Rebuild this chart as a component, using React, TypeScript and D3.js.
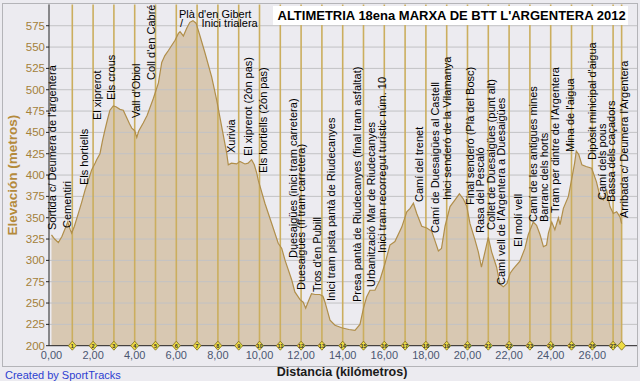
import React from 'react';
import * as d3 from 'd3';

const distKm = [0, 0.15, 0.33, 0.5, 0.7, 0.78, 0.9, 0.97, 1.1, 1.29, 1.45, 1.61, 1.8, 1.93, 2.1, 2.17, 2.33, 2.45, 2.57, 2.7, 2.81, 2.97, 3.1, 3.29, 3.45, 3.6, 3.75, 3.86, 4.0, 4.1, 4.2, 4.41, 4.6, 4.9, 5.14, 5.3, 5.45, 5.62, 5.94, 6.1, 6.18, 6.34, 6.5, 6.65, 6.8, 6.95, 7.14, 7.38, 7.7, 7.94, 8.18, 8.42, 8.5, 8.65, 8.9, 9.06, 9.3, 9.45, 9.62, 9.75, 9.87, 9.94, 10.26, 10.59, 10.9, 11.07, 11.23, 11.55, 11.7, 11.95, 12.1, 12.22, 12.35, 12.5, 12.67, 12.9, 13.05, 13.15, 13.39, 13.63, 13.95, 14.3, 14.59, 14.83, 15.0, 15.15, 15.31, 15.55, 15.79, 16.03, 16.27, 16.51, 16.84, 17.08, 17.24, 17.4, 17.56, 17.8, 18.04, 18.28, 18.45, 18.6, 18.75, 18.92, 19.16, 19.4, 19.61, 19.8, 19.97, 20.12, 20.36, 20.52, 20.67, 20.86, 21.0, 21.16, 21.4, 21.56, 21.72, 21.9, 22.05, 22.2, 22.52, 22.76, 22.92, 23.16, 23.32, 23.49, 23.65, 23.8, 23.89, 24.05, 24.2, 24.37, 24.45, 24.61, 24.85, 25.0, 25.15, 25.23, 25.35, 25.5, 25.7, 25.97, 26.2, 26.37, 26.53, 26.69, 26.85, 27.01, 27.17, 27.33, 27.41];
const elevM = [330, 325, 321, 328, 340, 345, 336, 332, 340, 355, 368, 382, 396, 406, 414, 418, 425, 440, 453, 466, 476, 481, 480, 477, 476, 468, 460, 455, 452, 444, 452, 461, 470, 490, 508, 532, 540, 546, 558, 566, 568, 563, 572, 579, 581, 578, 563, 543, 515, 488, 457, 426, 412, 414, 413, 416, 413, 414, 418, 412, 402, 394, 367, 343, 320, 314, 300, 277, 263, 254, 251, 244, 252, 261, 260, 260, 258, 251, 230, 224, 221, 219, 218, 225, 244, 257, 265, 265, 277, 296, 318, 322, 339, 357, 361, 367, 355, 340, 338, 334, 322, 311, 314, 340, 363, 371, 378, 372, 363, 343, 324, 310, 292, 312, 327, 310, 292, 272, 269, 273, 285, 290, 299, 314, 330, 345, 341, 330, 316, 318, 332, 345, 336, 350, 342, 361, 375, 394, 414, 428, 424, 412, 410, 408, 392, 375, 371, 382, 363, 355, 357, 351, 343];

const kmMarks = [1, 2, 3, 4, 5, 6, 7, 8, 9, 10, 11, 12, 13, 14, 15, 16, 17, 18, 19, 20, 21, 22, 23, 24, 25, 26, 27];
const yTicks = [200, 225, 250, 275, 300, 325, 350, 375, 400, 425, 450, 475, 500, 525, 550, 575];
const xTicks = [0, 2, 4, 6, 8, 10, 12, 14, 16, 18, 20, 22, 24, 26];

const wpNames = [
  "Sortida c/ Deumera de l'argentera",
  "Cementiri",
  "Els hortiells",
  "El xiprerot",
  "Els crous",
  "Vall d'Obiol",
  "Coll d'en Cabré",
  "Xurivia",
  "El xiprerot (2ón pas)",
  "Els hortiells (2ón pas)",
  "Duesaigües (inici tram carretera)",
  "Duesaigües (fi tram carretera)",
  "Tros d'en Pubill",
  "Inici tram pista pantà de Riudecanyes",
  "Presa pantà de Riudecanyes (final tram asfaltat)",
  "Urbanització Mar de Riudecanyes",
  "Inici tram recorregut turístic núm. 10",
  "Camí del trenet",
  "Camí de Duesaigües al Castell",
  "Inici senderó de la Vilamanya",
  "Final senderó (Plà del Bosc)",
  "Rasa del Pescaló",
  "Collet de Duesaigües (punt alt)",
  "Camí vell de l'Argentera a Duesaigües",
  "El molí vell",
  "Camí de les antigues mines",
  "Barranc dels horts",
  "Tram per dintre de l'Argentera",
  "Mina de l'aigua",
  "Dipòsit minicipal d'aigua",
  "Camí dels pous",
  "Bassa dels caçadors",
  "Arribada c/ Deumera l'Argentera",
];
const wpKm = [0.24, 0.96, 1.75, 2.36, 3.03, 4.25, 4.98, 8.82, 9.62, 10.34, 11.78, 12.19, 12.98, 13.63, 14.9, 15.55, 16.06, 17.88, 18.61, 19.23, 20.29, 20.77, 21.32, 21.8, 22.6, 23.32, 23.85, 24.38, 25.1, 26.2, 26.68, 27.09, 27.74];
const wpElev = [335.6, 337.9, 388.3, 464.5, 488, 466.8, 511.4, 425.8, 422.3, 402.4, 302.8, 265.3, 262.9, 252.4, 251.2, 268.8, 308.6, 368.4, 332.1, 370.7, 364.9, 332.1, 335.6, 271.1, 315.7, 345, 345, 355.5, 427, 417.6, 370.7, 368.4, 349.6];

const topNames = ["Plà d'en Gibert", "/", "Inici trialera"];
const topKm = [6.13, 6.18, 7.21];
const topElev = [584.6, 574, 573.5];

const title = "ALTIMETRIA 18ena MARXA DE BTT L'ARGENTERA 2012";
const xTitle = "Distancia (kilómetros)";
const yTitle = "Elevación (metros)";
const credit = "Created by SportTracks";

const FONT = "'Liberation Sans', Arial, sans-serif";

export default function App() {
  const W = 640, H = 381;
  const left = 49, right = 637, top = 4.4, bottom = 345.7;
  const x = d3.scaleLinear().domain([0, 27]).range([51.5, 613.1]);
  const y = d3.scaleLinear().domain([200, 600]).range([bottom, top]);
  const endKm = distKm[distKm.length - 1];

  const area = d3.area<number>()
    .x((_, i) => x(distKm[i]))
    .y0(y(200))
    .y1((d) => y(d));
  const line = d3.line<number>()
    .x((_, i) => x(distKm[i]))
    .y((d) => y(d));

  const fmt = (v: number) => d3.format('.2f')(v).replace('.', ',');
  const markKms = [...kmMarks, endKm];

  return (
    <svg width={W} height={H} style={{ position: 'absolute', left: 0, top: 0 }} fontFamily={FONT}>
      <rect x={0} y={0} width={W} height={H} fill="#ECEBF0" />
      <rect x={2.5} y={3.5} width={635} height={363} fill="none" stroke="#B4B4B8" />
      {/* fill */}
      <path d={area(elevM) || ''} fill="#D8C8B2" />
      {/* horizontal gridlines */}
      {yTicks.filter((t) => t > 200).map((t) => (
        <line key={t} x1={left} x2={right} y1={y(t)} y2={y(t)} stroke="#C2C2C4" strokeWidth={1} />
      ))}
      {/* km lines */}
      {markKms.map((k, i) => (
        <line key={i} x1={x(k)} x2={x(k)} y1={top} y2={bottom} stroke="#CBAE5E" strokeWidth={1.6} />
      ))}
      <path d={line(elevM) || ''} fill="none" stroke="#B08E4A" strokeWidth={1.2} />
      {/* axes */}
      <line x1={left} x2={left} y1={top} y2={bottom} stroke="#222" strokeWidth={1} />
      <line x1={left} x2={right} y1={bottom} y2={bottom} stroke="#222" strokeWidth={1} />
      {yTicks.map((t) => (
        <g key={t}>
          <line x1={left - 3} x2={left} y1={y(t)} y2={y(t)} stroke="#222" />
          <text x={45} y={y(t)} dy="0.35em" textAnchor="end" fontSize={11.5} fill="#A3803A">{t}</text>
        </g>
      ))}
      {xTicks.map((t) => (
        <text key={t} x={x(t)} y={359} textAnchor="middle" fontSize={11} fill="#4B5670">{fmt(t)}</text>
      ))}
      {/* km diamonds */}
      {markKms.map((k, i) => (
        <g key={i} transform={`translate(${x(k)},${bottom})`}>
          <polygon points="0,-4.5 4,0 0,4.5 -4,0" fill="#EEDD44" stroke="#7E6C1C" strokeWidth={0.8} />
          {i < kmMarks.length && (
            <text y={2} textAnchor="middle" fontSize={5.5} fontWeight="bold" fill="#333">{kmMarks[i]}</text>
          )}
        </g>
      ))}
      {/* waypoint labels */}
      {wpNames.map((n, i) => (
        <text key={i} transform={`translate(${x(wpKm[i])},${y(wpElev[i])}) rotate(-90)`} fontSize={11} fill="#000">{n}</text>
      ))}
      {topNames.map((n, i) => (
        <text key={i} x={x(topKm[i])} y={y(topElev[i])} fontSize={11} fill="#000">{n}</text>
      ))}
      {/* title */}
      <rect x={273} y={6} width={355} height={19} fill="#FFFFFF" />
      <text x={277.5} y={20} fontSize={13} fontWeight="bold" fill="#000">{title}</text>
      <text x={342} y={376} textAnchor="middle" fontSize={12.5} fontWeight="bold" fill="#1A1A1A">{xTitle}</text>
      <text transform={`translate(17,${(top + bottom) / 2}) rotate(-90)`} textAnchor="middle" fontSize={13.5} fontWeight="bold" fill="#B48A3C">{yTitle}</text>
      <text x={5} y={379} fontSize={11} fill="#2D3FD0">{credit}</text>
    </svg>
  );
}
